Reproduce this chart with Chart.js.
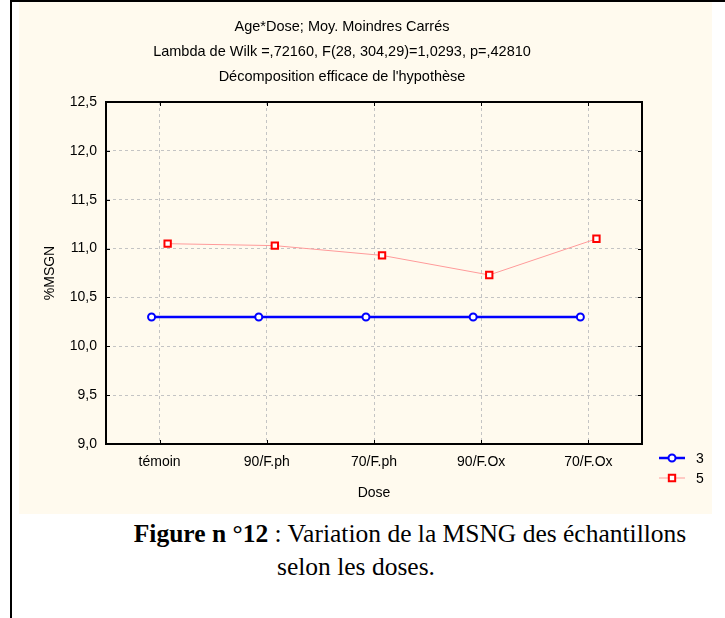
<!DOCTYPE html>
<html>
<head>
<meta charset="utf-8">
<script src="https://cdn.jsdelivr.net/npm/chart.js@4.4.1/dist/chart.umd.min.js"></script>
<style>
  body { margin: 0; width: 725px; height: 618px; background: #fff; position: relative; overflow: hidden; }
  #frame-left { position: absolute; left: 10px; top: 0; width: 2px; height: 618px; background: #000; }
  #frame-top  { position: absolute; left: 10px; top: 0; width: 715px; height: 2px; background: #000; z-index: 2; }
  #wrap { position: absolute; left: 19px; top: 0; width: 693px; height: 514px; background: #fffaee; }
  .cap {
    position: absolute; width: 640px; text-align: center; white-space: nowrap;
    font-family: "Liberation Serif", "Times New Roman", serif; font-size: 25.5px; line-height: 33px; color: #000;
  }
  #cap1 { left: 90px; top: 517px; }
  #cap2 { left: 36px; top: 550px; }
</style>
</head>
<body>
<div id="frame-left"></div>
<div id="frame-top"></div>
<div id="wrap"><canvas id="chart" width="693" height="514"></canvas></div>
<div class="cap" id="cap1"><b>Figure n °12</b> : Variation de la MSNG des échantillons</div>
<div class="cap" id="cap2">selon les doses.</div>

<script>
// Data
const DOSES = ["témoin", "90/F.ph", "70/F.ph", "90/F.Ox", "70/F.Ox"];
const AGE_3 = [10.30, 10.30, 10.30, 10.30, 10.30];
const AGE_5 = [11.05, 11.03, 10.93, 10.73, 11.10];
const Y_MIN = 9.0, Y_MAX = 12.5, Y_STEP = 0.5;

const TITLE_LINES = [
    "Age*Dose; Moy. Moindres Carrés",
    "Lambda de Wilk =,72160, F(28, 304,29)=1,0293, p=,42810",
    "Décomposition efficace de l'hypothèse"
];

// STATISTICA shifts the two series a little sideways around each category
const SHIFT = 0.075;

const FONT = "'Liberation Sans', Arial, sans-serif";

function toPoints(values, shift) {
    return values.map((v, i) => ({ x: i + shift, y: v }));
}

const fmt = (v) => v.toFixed(1).replace(".", ",");

// ---- frame, inward ticks and legend drawn with the chart's own scales ----
const statisticaBits = {
    id: "statisticaBits",
    afterDraw(chart) {
        const { ctx, chartArea: a, scales } = chart;
        const t = 4;
        ctx.save();
        ctx.strokeStyle = "#000";
        ctx.lineWidth = 1;
        ctx.beginPath();
        scales.y.ticks.forEach((tk) => {
            const y = Math.round(scales.y.getPixelForValue(tk.value)) + 0.5;
            ctx.moveTo(a.left, y); ctx.lineTo(a.left + t, y);
            ctx.moveTo(a.right, y); ctx.lineTo(a.right - t, y);
        });
        scales.x.ticks.forEach((tk) => {
            const x = Math.round(scales.x.getPixelForValue(tk.value)) + 0.5;
            ctx.moveTo(x, a.top); ctx.lineTo(x, a.top + t);
            ctx.moveTo(x, a.bottom); ctx.lineTo(x, a.bottom - t);
        });
        ctx.stroke();

        ctx.lineWidth = 2;
        ctx.strokeRect(a.left, a.top, a.right - a.left, a.bottom - a.top);

        // legend
        ctx.font = "14px " + FONT;
        ctx.textBaseline = "middle";
        chart.data.datasets.forEach((ds, i) => {
            const y = 458 + i * 20;
            const x0 = 640;
            ctx.strokeStyle = ds.borderColor;
            ctx.lineWidth = ds.borderWidth;
            ctx.beginPath();
            ctx.moveTo(x0, y); ctx.lineTo(x0 + 26, y);
            ctx.stroke();
            ctx.fillStyle = ds.pointBackgroundColor;
            ctx.strokeStyle = ds.pointBorderColor;
            ctx.lineWidth = ds.pointBorderWidth;
            Chart.helpers.drawPoint(ctx, { pointStyle: ds.pointStyle, radius: ds.pointRadius, borderWidth: ds.pointBorderWidth }, x0 + 13, y);
            ctx.fillStyle = "#000";
            ctx.fillText(ds.label, x0 + 37, y + 1);
        });
        ctx.restore();
    }
};

new Chart(document.getElementById("chart"), {
    type: "line",
    data: {
        datasets: [
            {
                label: "3",
                data: toPoints(AGE_3, -SHIFT),
                borderColor: "#0000ff",
                borderWidth: 2.5,
                pointStyle: "circle",
                pointRadius: 3.5,
                pointBorderWidth: 2,
                pointBorderColor: "#0000ff",
                pointBackgroundColor: "#ffffff"
            },
            {
                label: "5",
                data: toPoints(AGE_5, SHIFT),
                borderColor: "#ff9a9a",
                borderWidth: 1,
                pointStyle: "rect",
                pointRadius: 4.5,
                pointBorderWidth: 2,
                pointBorderColor: "#ff0000",
                pointBackgroundColor: "#ffffff"
            }
        ]
    },
    options: {
        responsive: false,
        animation: false,
        layout: { padding: { left: 23, right: 70, top: 0, bottom: 12 } },
        plugins: {
            legend: { display: false },
            tooltip: { enabled: false },
            title: {
                display: true,
                text: TITLE_LINES,
                color: "#000",
                font: { family: FONT, size: 14.5, weight: "normal", lineHeight: 25 / 14.5 },
                padding: { top: 14, bottom: 13 }
            }
        },
        scales: {
            x: {
                type: "linear",
                min: -0.5,
                max: 4.5,
                afterBuildTicks: (scale) => { scale.ticks = DOSES.map((d, i) => ({ value: i })); },
                afterFit: (scale) => { scale.height = 58; },
                ticks: {
                    color: "#000",
                    font: { family: FONT, size: 14 },
                    padding: 10,
                    maxRotation: 0,
                    callback: (v) => DOSES[v]
                },
                grid: { color: "#c4c4c4", lineWidth: 1, drawTicks: false },
                border: { display: true, color: "#000", width: 2, dash: [3, 3] },
                title: { display: true, text: "Dose", color: "#000", font: { family: FONT, size: 14 }, padding: 0 }
            },
            y: {
                min: Y_MIN,
                max: Y_MAX,
                afterFit: (scale) => { scale.width = 64; },
                ticks: {
                    stepSize: Y_STEP,
                    color: "#000",
                    font: { family: FONT, size: 14 },
                    padding: 9,
                    callback: (v) => fmt(v)
                },
                grid: { color: "#c4c4c4", lineWidth: 1, drawTicks: false },
                border: { display: true, color: "#000", width: 2, dash: [3, 3] },
                title: { display: true, text: "%MSGN", color: "#000", font: { family: FONT, size: 14 }, padding: 0 }
            }
        }
    },
    plugins: [statisticaBits]
});
</script>
</body>
</html>
